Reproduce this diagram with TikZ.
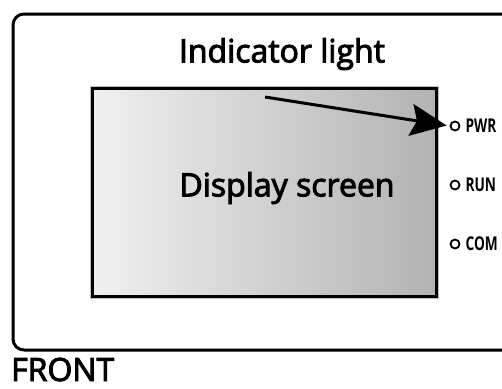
\documentclass[tikz,border=0pt]{standalone}
\usepackage{fontspec}
\setmainfont{Open Sans}
\newfontfamily\semifont[FakeBold=3]{Open Sans}
\usetikzlibrary{arrows.meta,positioning,calc}
\tikzset{
  panel/.style ={draw,line width=3pt,rounded corners=11pt},
  screen/.style={draw,line width=3pt,left color=black!6,right color=black!30},
  led/.style   ={circle,draw,line width=1.8pt,minimum size=9pt,inner sep=0pt},
  lbl/.style   ={anchor=west,inner sep=0pt,font=\bfseries\fontsize{19}{19}\selectfont},
  big/.style   ={inner sep=0pt,font=\semifont\fontsize{32}{32}\selectfont},
  callout/.style={draw,line width=3pt,-{Stealth[length=36pt 0,width=32pt 0,inset=6pt]},shorten >=3pt},
}
\begin{document}
\begin{tikzpicture}[x=1pt,y=-1pt]
  \useasboundingbox (0,0) rectangle (502,388);
  \clip (0,0) rectangle (502,388);
  % outer case, cut at the right
  \draw[panel] (13,14) rectangle (540,350);
  % screen
  \draw[black!25,line width=5pt] (92,88) rectangle (436,296);
  \draw[screen] (92,88) rectangle (436,296);
  \node[big] (scr) at (287,188) {Display screen};
  \node[big] (ind) at (282,54) {Indicator light};
  \node[big,anchor=base west] (front) at (11,381) {FRONT};
  % indicators
  \node[led] (pwr) at (455,126) {};
  \node[led] (run) at (455,185) {};
  \node[led] (com) at (455,244) {};
  \node[lbl,right=5pt of pwr] (pwrl) {\scalebox{0.72}[1]{PWR}};
  \node[lbl,right=5pt of run] (runl) {\scalebox{0.72}[1]{RUN}};
  \node[lbl,right=5pt of com] (coml) {\scalebox{0.72}[1]{COM}};
  \coordinate (tail) at (265,97);
  \draw[callout] (tail) -- (pwr.west);
\end{tikzpicture}
\end{document}
